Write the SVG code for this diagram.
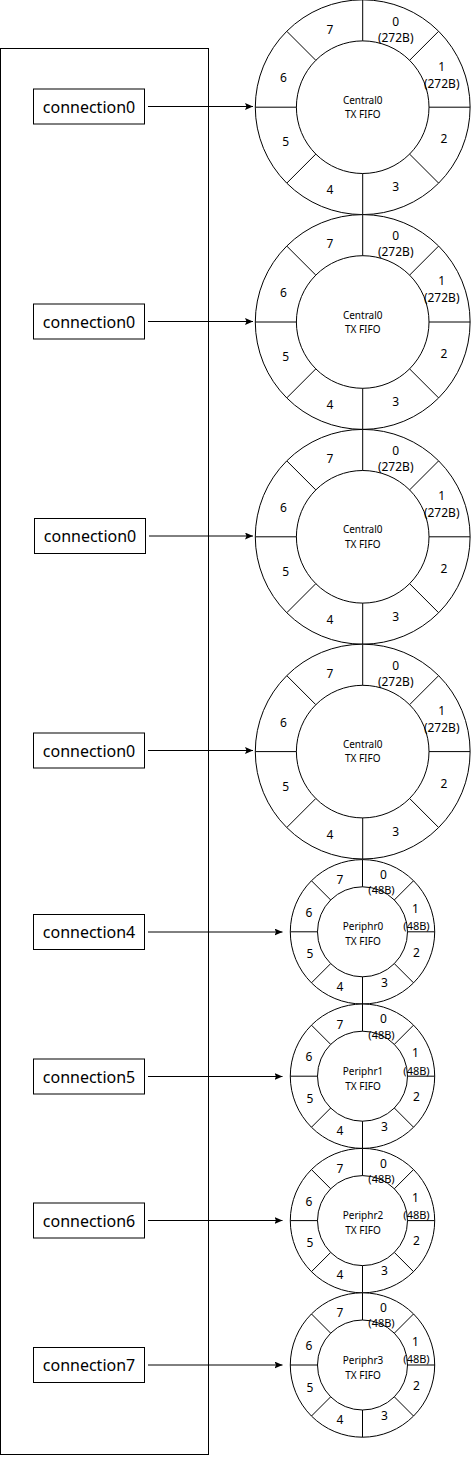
<svg xmlns="http://www.w3.org/2000/svg" xmlns:xlink="http://www.w3.org/1999/xlink" width="472" height="1457" viewBox="0 0 472 1457">
<style>
  .ln{fill:none;stroke:#000;stroke-width:1}
  .ring{fill:#fff;stroke:#000;stroke-width:1}
  .box{fill:#fff;stroke:#000;stroke-width:1}
  text{font-family:"Noto Sans","DejaVu Sans",sans-serif;fill:#000;text-anchor:middle}
  .bt{font-size:16px}
  .bl{font-size:12px}
  .sl{font-size:11px}
  .ct{font-size:10px}
</style>
<defs>
  <marker id="arr" markerUnits="userSpaceOnUse" markerWidth="9" markerHeight="8" refX="8" refY="3.5" orient="auto">
    <path d="M0,0 L8,3.5 L0,7 L1.5,3.5 z" fill="#000"/>
  </marker>
  <g id="bigRing">
    <circle r="107.4" class="ring"/>
    <circle r="66.3" class="ring"/>
    <path class="ln" d="M0,-107.4V-66.3M0,66.3V107.4M-107.4,0H-66.3M66.3,0H107.4M46.9,-46.9L75.9,-75.9M46.9,46.9L75.9,75.9M-46.9,46.9L-75.9,75.9M-46.9,-46.9L-75.9,-75.9"/>
  </g>
  <g id="smallRing">
    <circle r="72.2" class="ring"/>
    <circle r="45" class="ring"/>
    <path class="ln" d="M0,-72.2V-45M0,45V72.2M-72.2,0H-45M45,0H72.2M31.8,-31.8L51.05,-51.05M31.8,31.8L51.05,51.05M-31.8,31.8L-51.05,51.05M-31.8,-31.8L-51.05,-51.05"/>
  </g>
</defs>
<rect width="472" height="1457" fill="#fff"/>

<g id="container">
  <rect class="ln" x="0.5" y="48.5" width="208" height="1406"/>
</g>

<g id="fifo-central-1" transform="translate(362.7,107.2)">
  <use xlink:href="#bigRing" href="#bigRing"/>
  <text class="bl" x="33" y="-81.7">0</text>
  <text class="bl" x="33" y="-65.7">(272B)</text>
  <text class="bl" x="79" y="-36.7">1</text>
  <text class="bl" x="79" y="-19.7">(272B)</text>
  <text class="bl" x="81.3" y="36.3">2</text>
  <text class="bl" x="33" y="84">3</text>
  <text class="bl" x="-32.7" y="87.3">4</text>
  <text class="bl" x="-77" y="39">5</text>
  <text class="bl" x="-79.3" y="-25">6</text>
  <text class="bl" x="-32.7" y="-73.7">7</text>
  <text class="ct" x="0" y="-3.5">Central0</text>
  <text class="ct" x="0" y="10.8">TX FIFO</text>
</g>
<g id="fifo-central-2" transform="translate(362.7,322)">
  <use xlink:href="#bigRing" href="#bigRing"/>
  <text class="bl" x="33" y="-81.7">0</text>
  <text class="bl" x="33" y="-65.7">(272B)</text>
  <text class="bl" x="79" y="-36.7">1</text>
  <text class="bl" x="79" y="-19.7">(272B)</text>
  <text class="bl" x="81.3" y="36.3">2</text>
  <text class="bl" x="33" y="84">3</text>
  <text class="bl" x="-32.7" y="87.3">4</text>
  <text class="bl" x="-77" y="39">5</text>
  <text class="bl" x="-79.3" y="-25">6</text>
  <text class="bl" x="-32.7" y="-73.7">7</text>
  <text class="ct" x="0" y="-3.5">Central0</text>
  <text class="ct" x="0" y="10.8">TX FIFO</text>
</g>
<g id="fifo-central-3" transform="translate(362.7,536.8)">
  <use xlink:href="#bigRing" href="#bigRing"/>
  <text class="bl" x="33" y="-81.7">0</text>
  <text class="bl" x="33" y="-65.7">(272B)</text>
  <text class="bl" x="79" y="-36.7">1</text>
  <text class="bl" x="79" y="-19.7">(272B)</text>
  <text class="bl" x="81.3" y="36.3">2</text>
  <text class="bl" x="33" y="84">3</text>
  <text class="bl" x="-32.7" y="87.3">4</text>
  <text class="bl" x="-77" y="39">5</text>
  <text class="bl" x="-79.3" y="-25">6</text>
  <text class="bl" x="-32.7" y="-73.7">7</text>
  <text class="ct" x="0" y="-3.5">Central0</text>
  <text class="ct" x="0" y="10.8">TX FIFO</text>
</g>
<g id="fifo-central-4" transform="translate(362.7,751.6)">
  <use xlink:href="#bigRing" href="#bigRing"/>
  <text class="bl" x="33" y="-81.7">0</text>
  <text class="bl" x="33" y="-65.7">(272B)</text>
  <text class="bl" x="79" y="-36.7">1</text>
  <text class="bl" x="79" y="-19.7">(272B)</text>
  <text class="bl" x="81.3" y="36.3">2</text>
  <text class="bl" x="33" y="84">3</text>
  <text class="bl" x="-32.7" y="87.3">4</text>
  <text class="bl" x="-77" y="39">5</text>
  <text class="bl" x="-79.3" y="-25">6</text>
  <text class="bl" x="-32.7" y="-73.7">7</text>
  <text class="ct" x="0" y="-3.5">Central0</text>
  <text class="ct" x="0" y="10.8">TX FIFO</text>
</g>

<g id="fifo-periphr0" transform="translate(362.5,931.8)">
  <use xlink:href="#smallRing" href="#smallRing"/>
  <text class="bl" x="21" y="-53.1">0</text>
  <text class="sl" x="19" y="-37.7">(48B)</text>
  <text class="bl" x="53" y="-19.1">1</text>
  <text class="sl" x="54" y="-1.7">(48B)</text>
  <text class="bl" x="54" y="24.9">2</text>
  <text class="bl" x="22" y="54.9">3</text>
  <text class="bl" x="-22.5" y="58.9">4</text>
  <text class="bl" x="-52.5" y="26.6">5</text>
  <text class="bl" x="-53.5" y="-15.1">6</text>
  <text class="bl" x="-22.5" y="-47.7">7</text>
  <text class="ct" x="0.5" y="-1.5">Periphr0</text>
  <text class="ct" x="0.5" y="13.5">TX FIFO</text>
</g>
<g id="fifo-periphr1" transform="translate(362.5,1076.2)">
  <use xlink:href="#smallRing" href="#smallRing"/>
  <text class="bl" x="21" y="-53.1">0</text>
  <text class="sl" x="19" y="-37.7">(48B)</text>
  <text class="bl" x="53" y="-19.1">1</text>
  <text class="sl" x="54" y="-1.7">(48B)</text>
  <text class="bl" x="54" y="24.9">2</text>
  <text class="bl" x="22" y="54.9">3</text>
  <text class="bl" x="-22.5" y="58.9">4</text>
  <text class="bl" x="-52.5" y="26.6">5</text>
  <text class="bl" x="-53.5" y="-15.1">6</text>
  <text class="bl" x="-22.5" y="-47.7">7</text>
  <text class="ct" x="0.5" y="-1.5">Periphr1</text>
  <text class="ct" x="0.5" y="13.5">TX FIFO</text>
</g>
<g id="fifo-periphr2" transform="translate(362.5,1220.6)">
  <use xlink:href="#smallRing" href="#smallRing"/>
  <text class="bl" x="21" y="-53.1">0</text>
  <text class="sl" x="19" y="-37.7">(48B)</text>
  <text class="bl" x="53" y="-19.1">1</text>
  <text class="sl" x="54" y="-1.7">(48B)</text>
  <text class="bl" x="54" y="24.9">2</text>
  <text class="bl" x="22" y="54.9">3</text>
  <text class="bl" x="-22.5" y="58.9">4</text>
  <text class="bl" x="-52.5" y="26.6">5</text>
  <text class="bl" x="-53.5" y="-15.1">6</text>
  <text class="bl" x="-22.5" y="-47.7">7</text>
  <text class="ct" x="0.5" y="-1.5">Periphr2</text>
  <text class="ct" x="0.5" y="13.5">TX FIFO</text>
</g>
<g id="fifo-periphr3" transform="translate(362.5,1365)">
  <use xlink:href="#smallRing" href="#smallRing"/>
  <text class="bl" x="21" y="-53.1">0</text>
  <text class="sl" x="19" y="-37.7">(48B)</text>
  <text class="bl" x="53" y="-19.1">1</text>
  <text class="sl" x="54" y="-1.7">(48B)</text>
  <text class="bl" x="54" y="24.9">2</text>
  <text class="bl" x="22" y="54.9">3</text>
  <text class="bl" x="-22.5" y="58.9">4</text>
  <text class="bl" x="-52.5" y="26.6">5</text>
  <text class="bl" x="-53.5" y="-15.1">6</text>
  <text class="bl" x="-22.5" y="-47.7">7</text>
  <text class="ct" x="0.5" y="-1.5">Periphr3</text>
  <text class="ct" x="0.5" y="13.5">TX FIFO</text>
</g>

<g id="conn-a">
  <rect class="box" x="33.5" y="89" width="111" height="35"/>
  <text class="bt" x="89" y="112.5">connection0</text>
</g>
<g id="conn-b">
  <rect class="box" x="33.5" y="304" width="111" height="35"/>
  <text class="bt" x="89" y="327.5">connection0</text>
</g>
<g id="conn-c">
  <rect class="box" x="34.5" y="518.5" width="111" height="35"/>
  <text class="bt" x="90" y="542">connection0</text>
</g>
<g id="conn-d">
  <rect class="box" x="33.5" y="733" width="111" height="35"/>
  <text class="bt" x="89" y="756.5">connection0</text>
</g>
<g id="conn-4">
  <rect class="box" x="33.5" y="914.5" width="111" height="35"/>
  <text class="bt" x="89" y="938">connection4</text>
</g>
<g id="conn-5">
  <rect class="box" x="33.5" y="1059" width="111" height="35"/>
  <text class="bt" x="89" y="1082.5">connection5</text>
</g>
<g id="conn-6">
  <rect class="box" x="33.5" y="1203" width="111" height="35"/>
  <text class="bt" x="89" y="1226.5">connection6</text>
</g>
<g id="conn-7">
  <rect class="box" x="33.5" y="1347.5" width="111" height="35"/>
  <text class="bt" x="89" y="1371">connection7</text>
</g>

<g id="connectors" class="ln" marker-end="url(#arr)">
  <path d="M148,106.5H253"/>
  <path d="M148,321.5H253"/>
  <path d="M149,536H253"/>
  <path d="M148,750.5H253"/>
  <path d="M148,932H282.5"/>
  <path d="M148,1076.5H282.5"/>
  <path d="M148,1220.5H282.5"/>
  <path d="M148,1365H282.5"/>
</g>
</svg>
